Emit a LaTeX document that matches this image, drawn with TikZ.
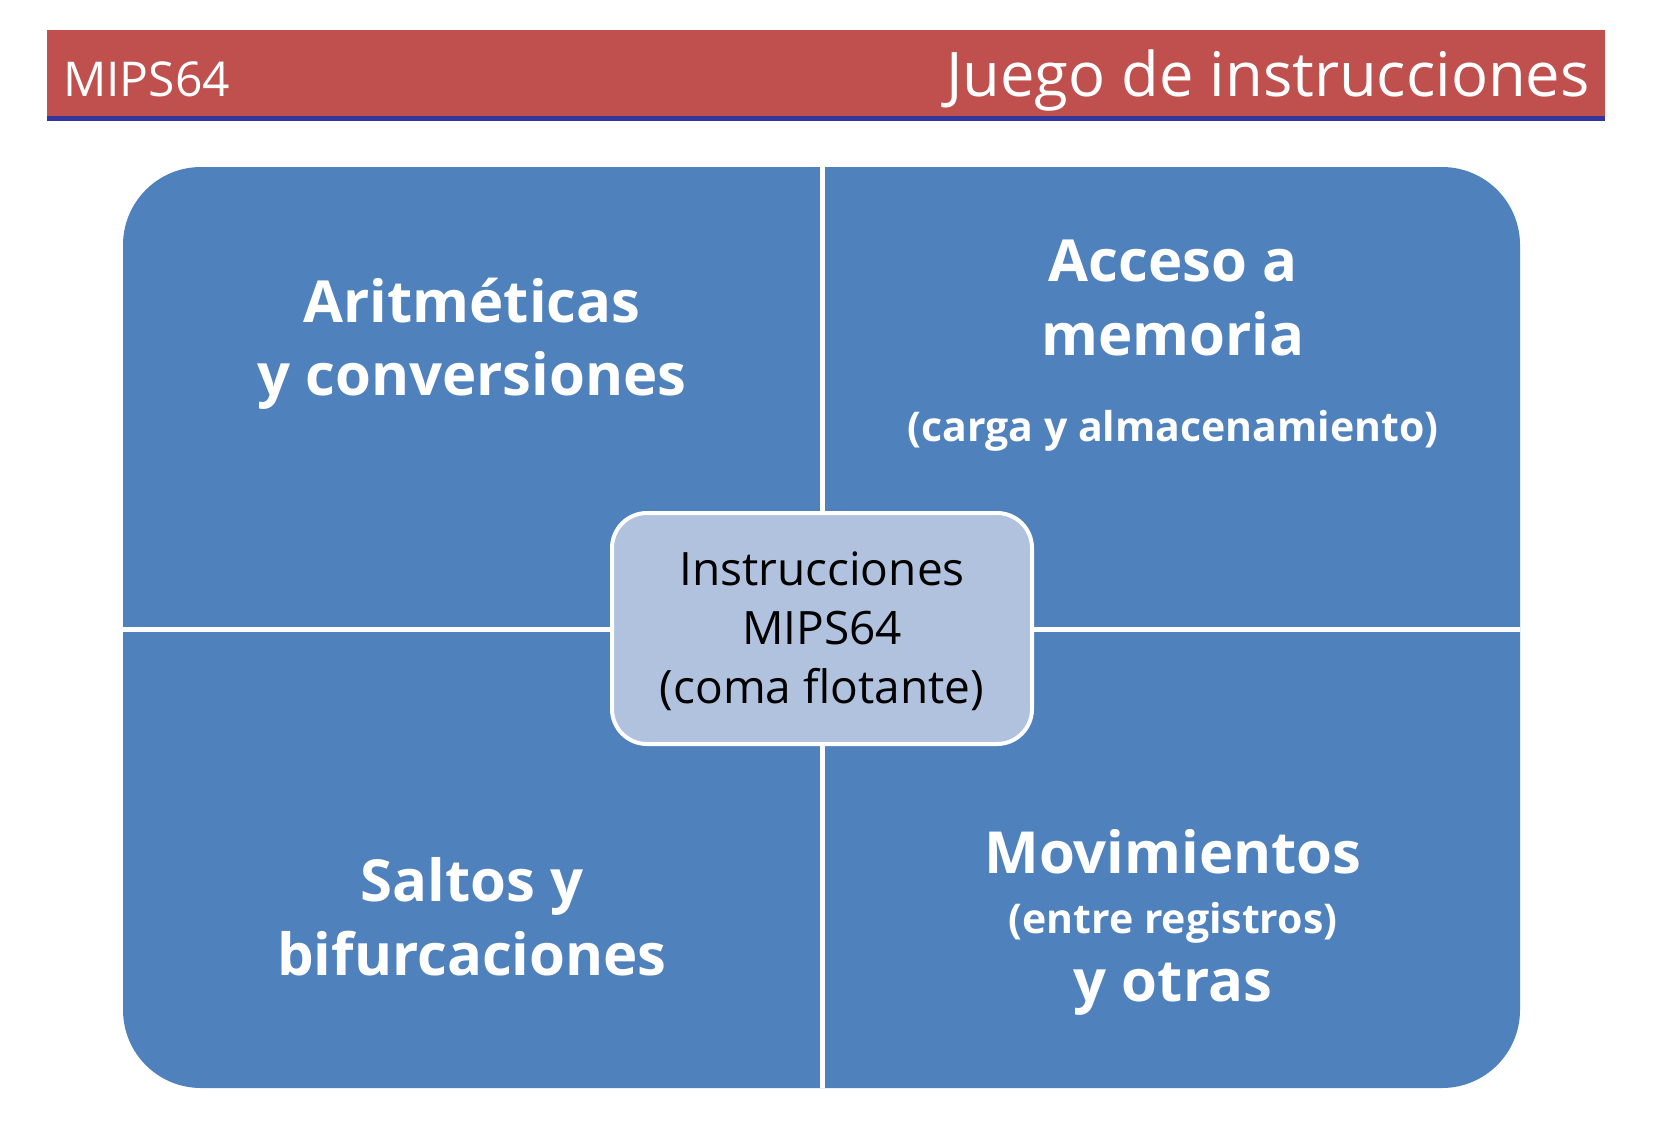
\documentclass[tikz,border=0pt]{standalone}
\usepackage{fontspec}
\setmainfont{Open Sans}
\definecolor{hdrred}{HTML}{C0504D}
\definecolor{hdrblue}{HTML}{3535A0}
\definecolor{quadblue}{HTML}{4F81BD}
\definecolor{centerblue}{HTML}{B0C2DE}
\begin{document}
\begin{tikzpicture}[x=1pt,y=-1pt,
  quadtxt/.style={text=white,font=\bfseries\fontsize{58}{66}\selectfont,anchor=base,inner sep=0pt},
  quadsub/.style={text=white,font=\bfseries\fontsize{41}{48}\selectfont,anchor=base,inner sep=0pt},
  centertxt/.style={text=black,font=\fontsize{46}{52}\selectfont,anchor=base,inner sep=0pt},
  divider/.style={white,line width=5pt}]
\useasboundingbox[fill=white] (0,0) rectangle (1653,1145);
% header
\fill[hdrred] (47,30) rectangle (1605,116);
\fill[hdrblue] (47,116) rectangle (1605,121);
\node[anchor=base west,inner sep=0pt,text=white,font=\fontsize{48}{54}\selectfont] (hdrleft) at (63,97) {MIPS64};
\node[anchor=base east,inner sep=0pt,text=white,font=\fontsize{61.5}{66}\selectfont] (hdrright) at (1590,97) {Juego de instrucciones};
% main block
\fill[quadblue, rounded corners=78pt] (123,167) rectangle (1520,1088);
\coordinate (vtop) at (822,167);
\coordinate (vbot) at (822,1088);
\coordinate (hleft) at (123,629);
\coordinate (hright) at (1520,629);
\draw[divider] (vtop) -- (vbot);
\draw[divider] (hleft) -- (hright);
% quadrant texts
\node[quadtxt] (q1a) at (472,322) {Aritméticas};
\node[quadtxt] (q1b) at (472,395) {y conversiones};
\node[quadtxt] (q2a) at (1173,281) {Acceso a};
\node[quadtxt] (q2b) at (1173,355) {memoria};
\node[quadsub] (q2c) at (1173,441) {(carga y almacenamiento)};
\node[quadtxt] (q3a) at (472,901) {Saltos y};
\node[quadtxt] (q3b) at (472,975) {bifurcaciones};
\node[quadtxt] (q4a) at (1173,873) {Movimientos};
\node[quadsub] (q4b) at (1173,933) {(entre registros)};
\node[quadtxt] (q4c) at (1173,1001) {y otras};
% center box
\node[draw=white, line width=4pt, fill=centerblue, rounded corners=35pt,
      minimum width=420pt, minimum height=231pt, inner sep=0pt] (center) at (822,628.5) {};
\node[centertxt] (c1) at (822,585) {Instrucciones};
\node[centertxt] (c2) at (822,644) {MIPS64};
\node[centertxt] (c3) at (822,703) {(coma flotante)};
\end{tikzpicture}
\end{document}
